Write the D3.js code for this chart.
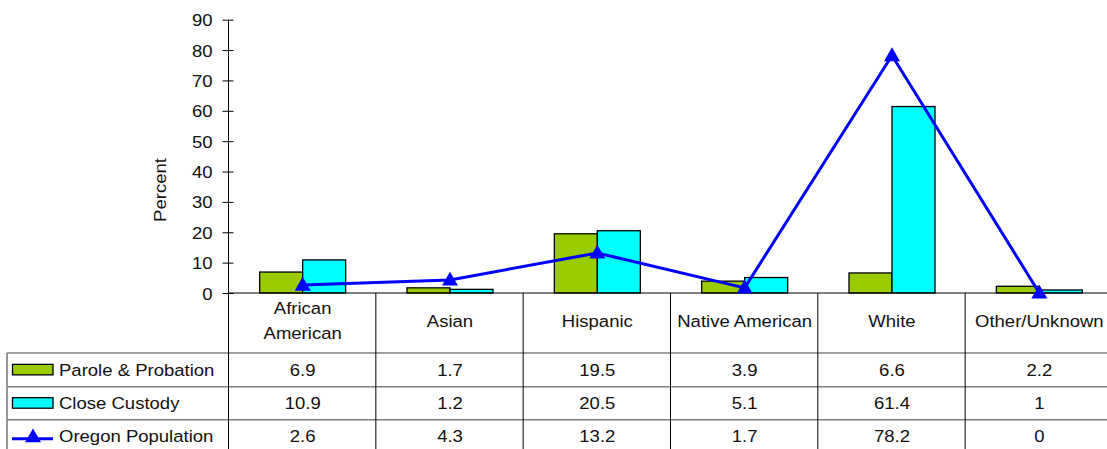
<!DOCTYPE html>
<html>
<head>
<meta charset="utf-8">
<script src="https://cdn.jsdelivr.net/npm/d3@7"></script>
<style>
  html, body { margin: 0; padding: 0; background: #fff; }
  svg { display: block; }
  text { font-family: "Liberation Sans", Arial, sans-serif; fill: #111; }
</style>
</head>
<body>
<svg id="chart" width="1107" height="449"></svg>
<script>
// Share of each group by race/ethnicity (percent)
const categories = ["African American", "Asian", "Hispanic", "Native American", "White", "Other/Unknown"];
const paroleProbation = [6.9, 1.7, 19.5, 3.9, 6.6, 2.2];
const closeCustody = [10.9, 1.2, 20.5, 5.1, 61.4, 1];
const oregonPopulation = [2.6, 4.3, 13.2, 1.7, 78.2, 0];
const yTicks = [0, 10, 20, 30, 40, 50, 60, 70, 80, 90];
const seriesNames = ["Parole & Probation", "Close Custody", "Oregon Population"];

const colors = { parole: "#99CC00", custody: "#00FFFF", line: "#0000FF" };
const FONT = 17, SX = 1.09;

const svg = d3.select("#chart");

const plotLeft = 229, plotRight = 1113, plotTop = 19.7, baseY = 293;
const tableLeft = 7;
const rowEdges = [293, 353, 386.7, 419.7, 452.7];

const x = d3.scaleBand().domain(categories).range([plotLeft, plotRight]).paddingInner(0).paddingOuter(0);
const x1 = d3.scaleBand().domain(["parole", "custody"]).range([0, x.bandwidth()]).paddingInner(0).paddingOuter(0.713);
const y = d3.scaleLinear().domain([0, 90]).range([baseY, plotTop]);

// text with slight horizontal widening
function wideText(g, str, tx, ty, anchor) {
  return g.append("text")
    .attr("x", tx / SX).attr("y", ty)
    .attr("transform", `scale(${SX},1)`)
    .attr("text-anchor", anchor || "middle")
    .style("font-size", FONT + "px")
    .text(str);
}

// Y axis
const yAxis = d3.axisLeft(y).tickValues(yTicks).tickSizeOuter(0).tickSizeInner(6);
const ag = svg.append("g").attr("transform", `translate(${plotLeft - 0.5},0)`).call(yAxis);
ag.select(".domain").remove();
ag.selectAll(".tick line").attr("x1", 5).attr("x2", -6).attr("stroke", "#000");
ag.selectAll(".tick text")
  .attr("x", -16 / SX).attr("dy", null).attr("y", 6)
  .attr("transform", `scale(${SX},1)`)
  .style("font-size", FONT + "px").attr("font-family", null).attr("fill", "#111");

svg.append("text")
  .attr("transform", `translate(166,190) rotate(-90) scale(${SX},1)`)
  .attr("text-anchor", "middle")
  .style("font-size", FONT + "px")
  .text("Percent");

// Bars
const groups = svg.append("g").selectAll("g").data(categories).join("g")
  .attr("transform", d => `translate(${x(d)},0)`);
groups.append("rect")
  .attr("x", () => x1("parole"))
  .attr("width", x1.bandwidth())
  .attr("y", (d, i) => y(paroleProbation[i]))
  .attr("height", (d, i) => baseY - y(paroleProbation[i]))
  .attr("fill", colors.parole).attr("stroke", "#000").attr("stroke-width", 1.3);
groups.append("rect")
  .attr("x", () => x1("custody"))
  .attr("width", x1.bandwidth())
  .attr("y", (d, i) => y(closeCustody[i]))
  .attr("height", (d, i) => baseY - y(closeCustody[i]))
  .attr("fill", colors.custody).attr("stroke", "#000").attr("stroke-width", 1.3);

// Table grid
const grid = svg.append("g");
rowEdges.slice(1, 4).forEach(ry => {
  grid.append("line").attr("x1", tableLeft).attr("x2", plotRight).attr("y1", ry).attr("y2", ry)
    .attr("stroke", "#7f7f7f").attr("stroke-width", 1.6);
});
grid.append("line").attr("x1", tableLeft).attr("x2", tableLeft).attr("y1", rowEdges[1]).attr("y2", 449)
  .attr("stroke", "#7f7f7f").attr("stroke-width", 1.6);
const dividers = categories.map(c => x(c)).concat([plotRight]);
dividers.forEach((dx, i) => {
  grid.append("line").attr("x1", dx - 0.5).attr("x2", dx - 0.5)
    .attr("y1", i === 0 ? plotTop : baseY).attr("y2", 449)
    .attr("stroke", "#000").attr("stroke-width", 1);
});
// X axis baseline
grid.append("line").attr("x1", plotLeft).attr("x2", plotRight).attr("y1", baseY).attr("y2", baseY)
  .attr("stroke", "#000").attr("stroke-width", 1);

// Oregon population line and markers
const cx = (d, i) => x(categories[i]) + x.bandwidth() / 2;
svg.append("path")
  .datum(oregonPopulation)
  .attr("fill", "none").attr("stroke", colors.line).attr("stroke-width", 3)
  .attr("d", d3.line().x(cx).y(d => y(d)));
const tri = d3.symbol().type(d3.symbolTriangle).size(111);
svg.append("g").selectAll("path").data(oregonPopulation).join("path")
  .attr("d", tri)
  .attr("transform", (d, i) => `translate(${cx(d, i)},${y(d) + 1})`)
  .attr("fill", colors.line);

// Category headers
const hdr = svg.append("g");
categories.forEach(c => {
  const mx = x(c) + x.bandwidth() / 2;
  if (c === "African American") {
    wideText(hdr, "African", mx, 314);
    wideText(hdr, "American", mx, 339);
  } else {
    wideText(hdr, c, mx, 327);
  }
});

// Value rows with legend keys
const rows = [paroleProbation, closeCustody, oregonPopulation];
const tg = svg.append("g");
rows.forEach((vals, r) => {
  const cy = (rowEdges[r + 1] + rowEdges[r + 2]) / 2;
  vals.forEach((v, i) => {
    wideText(tg, String(v), x(categories[i]) + x.bandwidth() / 2, cy + 6);
  });
  wideText(tg, seriesNames[r], 59, cy + 6, "start");
  if (r < 2) {
    tg.append("rect").attr("x", 12.5).attr("y", cy - 5.5).attr("width", 40.5).attr("height", 10.5)
      .attr("fill", r === 0 ? colors.parole : colors.custody)
      .attr("stroke", "#000").attr("stroke-width", 1.3);
  } else {
    tg.append("line").attr("x1", 12).attr("x2", 53).attr("y1", cy + 2.5).attr("y2", cy + 2.5)
      .attr("stroke", colors.line).attr("stroke-width", 3);
    tg.append("path").attr("d", tri).attr("transform", `translate(33,${cy + 1.5})`).attr("fill", colors.line);
  }
});
</script>
</body>
</html>
